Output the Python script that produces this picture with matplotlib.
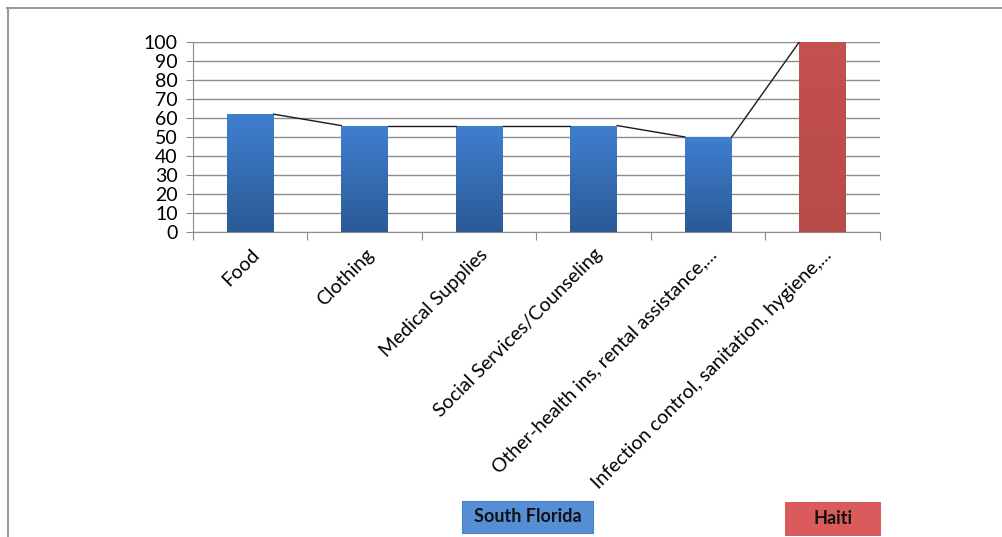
import numpy as np
import matplotlib.pyplot as plt
from matplotlib.colors import LinearSegmentedColormap
from matplotlib.lines import Line2D
from matplotlib.patches import Rectangle

categories = ["Food", "Clothing", "Medical Supplies", "Social Services/Counseling",
              "Other-health ins, rental assistance,...",
              "Infection control, sanitation, hygiene,..."]
values = [62, 56, 56, 56, 50, 100]
regions = ["South Florida"] * 5 + ["Haiti"]

gradients = {
    "South Florida": ("#2b5a95", "#3f7fd0"),
    "Haiti": ("#b84a47", "#c4524f"),
}
legend_colors = {"South Florida": "#558ed5", "Haiti": "#d95b5b"}

plt.rcParams['font.family'] = ['Lato', 'DejaVu Sans']

fig = plt.figure(figsize=(10.02, 5.37), dpi=100)
ax = fig.add_axes([0.1926, 0.568, 0.6856, 0.3538])

x = np.arange(len(categories))
width = 0.41

bars = ax.bar(x, values, width, color="none", edgecolor="none", zorder=3)
for bar, reg in zip(bars, regions):
    cmap = LinearSegmentedColormap.from_list(reg, gradients[reg])
    grad = np.linspace(0, 1, 256).reshape(-1, 1)
    bx, by = bar.get_x(), bar.get_y()
    img = ax.imshow(grad, cmap=cmap, origin="lower", aspect="auto",
                    extent=[bx, bx + bar.get_width(), by, by + bar.get_height()],
                    zorder=3)
    img.set_clip_path(bar)

# series lines joining neighbouring bar tops
for i in range(len(values) - 1):
    ax.plot([x[i] + width / 2, x[i + 1] - width / 2], [values[i], values[i + 1]],
            color="#1a1a1a", lw=1, zorder=4)
ax.set_xlim(-0.5, len(categories) - 0.5)
ax.set_ylim(0, 100)

ax.set_yticks(np.arange(0, 101, 10))
ax.yaxis.grid(True, color="#8c8c8c", lw=1)
ax.set_axisbelow(True)
ax.tick_params(axis="y", length=5, color="#8c8c8c", labelsize=14, pad=6)

# boundary ticks between categories, labels at the centres
ax.set_xticks(np.arange(-0.5, len(categories)))
ax.set_xticklabels([])
ax.tick_params(axis="x", length=6, color="#8c8c8c")
ax.set_xticks(x, minor=True)
ax.set_xticklabels(categories, minor=True, rotation=45, ha="right",
                   va="top", rotation_mode="anchor", fontsize=14)
ax.tick_params(axis="x", which="minor", length=0, pad=10)

for side in ("top", "right"):
    ax.spines[side].set_visible(False)
for side in ("left", "bottom"):
    ax.spines[side].set_color("#8c8c8c")

# region boxes under the chart
boxes = [("South Florida", 0.4611, 0.0075, 0.1307, 0.0596, "#4a80c4"),
         ("Haiti", 0.7834, 0.0019, 0.0958, 0.0633, "none")]
for name, bx, by, bw, bh, edge in boxes:
    fig.add_artist(Rectangle((bx, by), bw, bh, transform=fig.transFigure,
                             fc=legend_colors[name], ec=edge, lw=0.8))
    fig.text(bx + bw / 2, by + bh / 2, name, fontsize=13, fontweight="bold",
             color="#111111", ha="center", va="center")

# outer frame lines
fig.add_artist(Line2D([0.007, 1.0], [0.985, 0.985], color="#9a9a9a", lw=1.5,
                      transform=fig.transFigure))
fig.add_artist(Line2D([0.0075, 0.0075], [0.0, 0.985], color="#9a9a9a", lw=1.5,
                      transform=fig.transFigure))

fig.savefig("out.png", dpi=100)
